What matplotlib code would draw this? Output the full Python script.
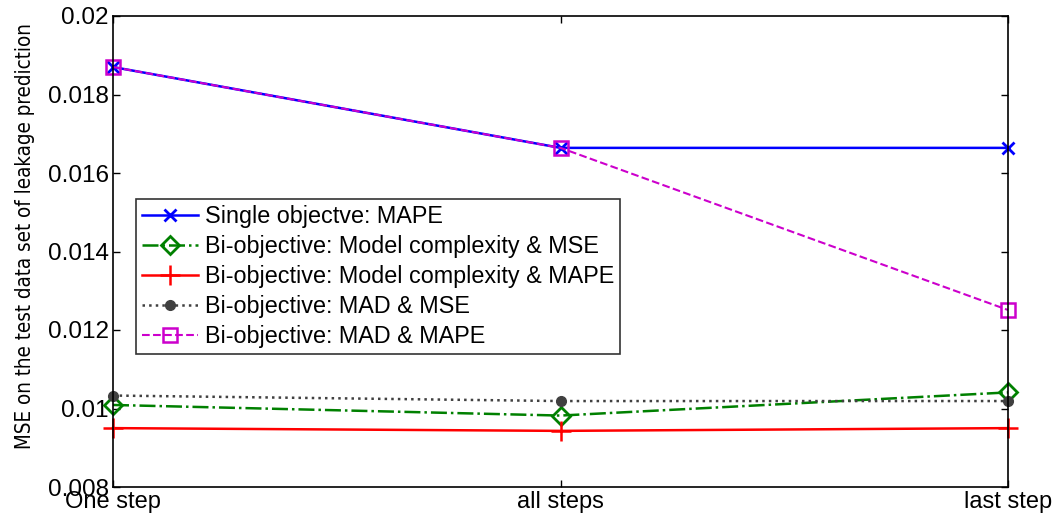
import matplotlib.pyplot as plt
import numpy as np

plt.rcParams['font.family'] = ['Liberation Sans', 'DejaVu Sans']

steps = ['One step', 'all steps', 'last step']
single_mape = [0.0187, 0.01664, 0.01664]
bi_cx_mse = [0.01009, 0.00982, 0.01041]
bi_cx_mape = [0.00950, 0.00943, 0.00950]
bi_mad_mse = [0.01033, 0.01019, 0.01019]
bi_mad_mape = [0.0187, 0.01664, 0.01251]

x = np.arange(1, len(steps) + 1)

fig = plt.figure(figsize=(10.55, 5.21), dpi=100)
ax = fig.add_axes([113 / 1055, 1 - 487 / 521, (1008 - 113) / 1055, (487 - 16) / 521])

ax.plot(x, single_mape, color='#0000ff', linestyle='-', marker='x', markersize=8,
        markeredgewidth=2, linewidth=1.8, label='Single objectve: MAPE', clip_on=False)
ax.plot(x, bi_cx_mse, color='#008000', linestyle='-.', marker='D', markersize=9,
        markerfacecolor='none', markeredgewidth=2, linewidth=1.8,
        label='Bi-objective: Model complexity & MSE', clip_on=False)
ax.plot(x, bi_cx_mape, color='#ff0000', linestyle='-', marker='+', markersize=14,
        markeredgewidth=1.8, linewidth=1.8, label='Bi-objective: Model complexity & MAPE',
        clip_on=False)
ax.plot(x, bi_mad_mse, color='#404040', linestyle=':', marker='o', markersize=7,
        linewidth=1.8, label='Bi-objective: MAD & MSE', clip_on=False)
ax.plot(x, bi_mad_mape, color='#cc00cc', linestyle='--', marker='s', markersize=10,
        markerfacecolor='none', markeredgewidth=1.8, linewidth=1.5,
        label='Bi-objective: MAD & MAPE', clip_on=False)

ax.set_xlim(1, 3)
ax.set_ylim(0.008, 0.02)
ax.set_xticks(x)
ax.set_xticklabels(steps, fontsize=17)
ax.set_yticks([0.008, 0.01, 0.012, 0.014, 0.016, 0.018, 0.02])
ax.set_yticklabels(['0.008', '0.01', '0.012', '0.014', '0.016', '0.018', '0.02'], fontsize=17.5)
ax.tick_params(direction='in', top=True, right=True, length=5, width=1, pad=3)
for s in ax.spines.values():
    s.set_linewidth(1.2)

ax.set_ylabel('MSE on the test data set of leakage prediction', fontsize=14.8,
              family='DejaVu Sans', fontstretch='condensed')
ax.yaxis.set_label_coords(-(113 - 35) / 895, (487 - 236) / 471)

leg = ax.legend(loc='upper left', bbox_to_anchor=((136 - 113) / 895, (487 - 199) / 471),
                fontsize=16.8, frameon=True, fancybox=False, edgecolor='black',
                borderpad=0.25, labelspacing=0.3, handlelength=2.4, handletextpad=0.3,
                borderaxespad=0)
leg.get_frame().set_linewidth(1.2)

fig.savefig('out.png', dpi=100)
